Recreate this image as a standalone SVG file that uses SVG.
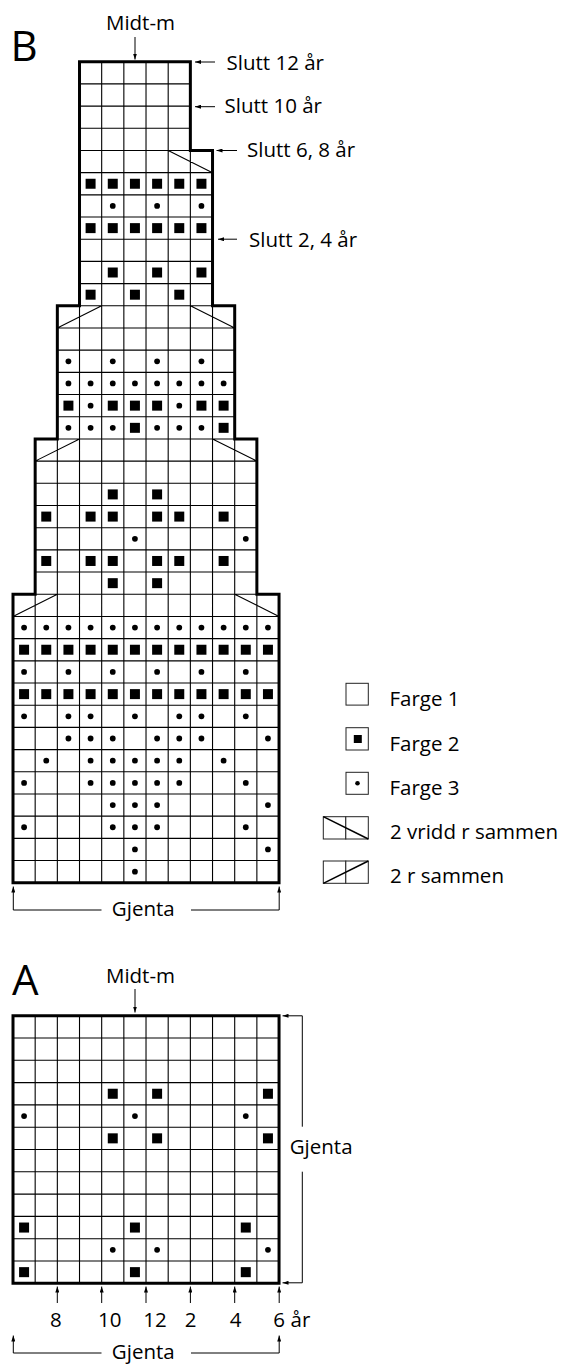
<svg xmlns="http://www.w3.org/2000/svg" xmlns:xlink="http://www.w3.org/1999/xlink" width="562" height="1365" viewBox="0 0 562 1365">
<style>
.grid{fill:none;stroke:#000;stroke-width:1.1;vector-effect:non-scaling-stroke}
.thick{fill:none;stroke:#000;stroke-width:3;stroke-linejoin:miter;vector-effect:non-scaling-stroke}
.lbl{font-family:"Open Sans","Liberation Sans",sans-serif;font-size:20.5px;fill:#000}
.big{font-size:42px}
.arr{fill:none;stroke:#000;stroke-width:1;marker-end:url(#ah)}
.lg{fill:#fff;stroke:#222;stroke-width:1}
.lgd{fill:none;stroke:#000;stroke-width:1.5}
</style>
<defs>
<rect id="s" x="0.275" y="0.275" width="0.45" height="0.45" fill="#000"/>
<circle id="d" cx="0.5" cy="0.5" r="0.13" fill="#000"/>
<marker id="ah" viewBox="0 0 6 4" refX="6" refY="2" markerWidth="6" markerHeight="4" markerUnits="userSpaceOnUse" orient="auto"><path d="M0 0L6 2L0 4z" fill="#000"/></marker>
</defs>
<rect width="562" height="1365" fill="#fff"/>

<g id="chartB" transform="translate(13,61.7) scale(22.17,22.19)">
<path class="grid" d="M4 0V4M5 0V4M6 0V4M7 0V4M3 1H8M3 2H8M3 3H8
M4 4V11M5 4V11M6 4V11M7 4V11M8 4V11M3 4H9M3 5H9M3 6H9M3 7H9M3 8H9M3 9H9M3 10H9
M3 11V17M4 11V17M5 11V17M6 11V17M7 11V17M8 11V17M9 11V17M2 11H10M2 12H10M2 13H10M2 14H10M2 15H10M2 16H10
M2 17V24M3 17V24M4 17V24M5 17V24M6 17V24M7 17V24M8 17V24M9 17V24M10 17V24M1 17H11M1 18H11M1 19H11M1 20H11M1 21H11M1 22H11M1 23H11
M1 24V37M2 24V37M3 24V37M4 24V37M5 24V37M6 24V37M7 24V37M8 24V37M9 24V37M10 24V37M11 24V37
M0 24H12M0 25H12M0 26H12M0 27H12M0 28H12M0 29H12M0 30H12M0 31H12M0 32H12M0 33H12M0 34H12M0 35H12M0 36H12
M7 4L9 5M2 12L4 11M8 11L10 12M1 18L3 17M9 17L11 18M0 25L2 24M10 24L12 25"/>
<path class="thick" d="M0 37V24H1V17H2V11H3V0H8V4H9V11H10V17H11V24H12V37Z"/>
<g id="B-r5"><use href="#s" x="3" y="5"/><use href="#s" x="4" y="5"/><use href="#s" x="5" y="5"/><use href="#s" x="6" y="5"/><use href="#s" x="7" y="5"/><use href="#s" x="8" y="5"/></g>
<g id="B-r6"><use href="#d" x="4" y="6"/><use href="#d" x="6" y="6"/><use href="#d" x="8" y="6"/></g>
<g id="B-r7"><use href="#s" x="3" y="7"/><use href="#s" x="4" y="7"/><use href="#s" x="5" y="7"/><use href="#s" x="6" y="7"/><use href="#s" x="7" y="7"/><use href="#s" x="8" y="7"/></g>
<g id="B-r9"><use href="#s" x="4" y="9"/><use href="#s" x="6" y="9"/><use href="#s" x="8" y="9"/></g>
<g id="B-r10"><use href="#s" x="3" y="10"/><use href="#s" x="5" y="10"/><use href="#s" x="7" y="10"/></g>
<g id="B-r13"><use href="#d" x="2" y="13"/><use href="#d" x="4" y="13"/><use href="#d" x="6" y="13"/><use href="#d" x="8" y="13"/></g>
<g id="B-r14"><use href="#d" x="2" y="14"/><use href="#d" x="3" y="14"/><use href="#d" x="4" y="14"/><use href="#d" x="5" y="14"/><use href="#d" x="6" y="14"/><use href="#d" x="7" y="14"/><use href="#d" x="8" y="14"/><use href="#d" x="9" y="14"/></g>
<g id="B-r15"><use href="#s" x="2" y="15"/><use href="#d" x="3" y="15"/><use href="#s" x="4" y="15"/><use href="#s" x="5" y="15"/><use href="#s" x="6" y="15"/><use href="#d" x="7" y="15"/><use href="#s" x="8" y="15"/><use href="#s" x="9" y="15"/></g>
<g id="B-r16"><use href="#d" x="2" y="16"/><use href="#d" x="3" y="16"/><use href="#d" x="4" y="16"/><use href="#s" x="5" y="16"/><use href="#d" x="6" y="16"/><use href="#d" x="7" y="16"/><use href="#d" x="8" y="16"/><use href="#s" x="9" y="16"/></g>
<g id="B-r19"><use href="#s" x="4" y="19"/><use href="#s" x="6" y="19"/></g>
<g id="B-r20"><use href="#s" x="1" y="20"/><use href="#s" x="3" y="20"/><use href="#s" x="4" y="20"/><use href="#s" x="6" y="20"/><use href="#s" x="7" y="20"/><use href="#s" x="9" y="20"/></g>
<g id="B-r21"><use href="#d" x="5" y="21"/><use href="#d" x="10" y="21"/></g>
<g id="B-r22"><use href="#s" x="1" y="22"/><use href="#s" x="3" y="22"/><use href="#s" x="4" y="22"/><use href="#s" x="6" y="22"/><use href="#s" x="7" y="22"/><use href="#s" x="9" y="22"/></g>
<g id="B-r23"><use href="#s" x="4" y="23"/><use href="#s" x="6" y="23"/></g>
<g id="B-r25"><use href="#d" x="0" y="25"/><use href="#d" x="1" y="25"/><use href="#d" x="2" y="25"/><use href="#d" x="3" y="25"/><use href="#d" x="4" y="25"/><use href="#d" x="5" y="25"/><use href="#d" x="6" y="25"/><use href="#d" x="7" y="25"/><use href="#d" x="8" y="25"/><use href="#d" x="9" y="25"/><use href="#d" x="10" y="25"/><use href="#d" x="11" y="25"/></g>
<g id="B-r26"><use href="#s" x="0" y="26"/><use href="#s" x="1" y="26"/><use href="#s" x="2" y="26"/><use href="#s" x="3" y="26"/><use href="#s" x="4" y="26"/><use href="#s" x="5" y="26"/><use href="#s" x="6" y="26"/><use href="#s" x="7" y="26"/><use href="#s" x="8" y="26"/><use href="#s" x="9" y="26"/><use href="#s" x="10" y="26"/><use href="#s" x="11" y="26"/></g>
<g id="B-r27"><use href="#d" x="0" y="27"/><use href="#d" x="2" y="27"/><use href="#d" x="4" y="27"/><use href="#d" x="6" y="27"/><use href="#d" x="8" y="27"/><use href="#d" x="10" y="27"/></g>
<g id="B-r28"><use href="#s" x="0" y="28"/><use href="#s" x="1" y="28"/><use href="#s" x="2" y="28"/><use href="#s" x="3" y="28"/><use href="#s" x="4" y="28"/><use href="#s" x="5" y="28"/><use href="#s" x="6" y="28"/><use href="#s" x="7" y="28"/><use href="#s" x="8" y="28"/><use href="#s" x="9" y="28"/><use href="#s" x="10" y="28"/><use href="#s" x="11" y="28"/></g>
<g id="B-r29"><use href="#d" x="0" y="29"/><use href="#d" x="2" y="29"/><use href="#d" x="3" y="29"/><use href="#d" x="5" y="29"/><use href="#d" x="7" y="29"/><use href="#d" x="8" y="29"/><use href="#d" x="10" y="29"/></g>
<g id="B-r30"><use href="#d" x="2" y="30"/><use href="#d" x="3" y="30"/><use href="#d" x="4" y="30"/><use href="#d" x="6" y="30"/><use href="#d" x="7" y="30"/><use href="#d" x="8" y="30"/><use href="#d" x="11" y="30"/></g>
<g id="B-r31"><use href="#d" x="1" y="31"/><use href="#d" x="3" y="31"/><use href="#d" x="4" y="31"/><use href="#d" x="5" y="31"/><use href="#d" x="6" y="31"/><use href="#d" x="7" y="31"/><use href="#d" x="9" y="31"/></g>
<g id="B-r32"><use href="#d" x="0" y="32"/><use href="#d" x="3" y="32"/><use href="#d" x="4" y="32"/><use href="#d" x="5" y="32"/><use href="#d" x="6" y="32"/><use href="#d" x="7" y="32"/><use href="#d" x="10" y="32"/></g>
<g id="B-r33"><use href="#d" x="4" y="33"/><use href="#d" x="5" y="33"/><use href="#d" x="6" y="33"/><use href="#d" x="11" y="33"/></g>
<g id="B-r34"><use href="#d" x="0" y="34"/><use href="#d" x="4" y="34"/><use href="#d" x="5" y="34"/><use href="#d" x="6" y="34"/><use href="#d" x="10" y="34"/></g>
<g id="B-r35"><use href="#d" x="5" y="35"/><use href="#d" x="11" y="35"/></g>
<g id="B-r36"><use href="#d" x="5" y="36"/></g>
</g>

<g id="chartA" transform="translate(13,1015.7) scale(22.17,22.3)">
<path class="grid" d="M1 0V12M2 0V12M3 0V12M4 0V12M5 0V12M6 0V12M7 0V12M8 0V12M9 0V12M10 0V12M11 0V12
M0 1H12M0 2H12M0 3H12M0 4H12M0 5H12M0 6H12M0 7H12M0 8H12M0 9H12M0 10H12M0 11H12"/>
<path class="thick" d="M0 0H12V12H0Z"/>
<g id="A-r3"><use href="#s" x="4" y="3"/><use href="#s" x="6" y="3"/><use href="#s" x="11" y="3"/></g>
<g id="A-r4"><use href="#d" x="0" y="4"/><use href="#d" x="5" y="4"/><use href="#d" x="10" y="4"/></g>
<g id="A-r5"><use href="#s" x="4" y="5"/><use href="#s" x="6" y="5"/><use href="#s" x="11" y="5"/></g>
<g id="A-r9"><use href="#s" x="0" y="9"/><use href="#s" x="5" y="9"/><use href="#s" x="10" y="9"/></g>
<g id="A-r10"><use href="#d" x="4" y="10"/><use href="#d" x="6" y="10"/><use href="#d" x="11" y="10"/></g>
<g id="A-r11"><use href="#s" x="0" y="11"/><use href="#s" x="5" y="11"/><use href="#s" x="10" y="11"/></g>
</g>

<g id="connectors">
<path class="arr" d="M135 37V59.5"/>
<path class="arr" d="M215 62H195"/>
<path class="arr" d="M215 106.7H195"/>
<path class="arr" d="M237 150.5H216.5"/>
<path class="arr" d="M237 239.2H218"/>
<path class="arr" d="M101.5 910H13.3V886.5"/>
<path class="arr" d="M191 910H279.2V886.5"/>
<path class="arr" d="M135 989V1012.5"/>
<path class="arr" d="M302.3 1126.7V1015.8H282.5"/>
<path class="arr" d="M302.3 1171.7V1282.8H282.5"/>
<path class="arr" d="M57.3 1303V1286.5"/>
<path class="arr" d="M101.7 1303V1286.5"/>
<path class="arr" d="M146 1303V1286.5"/>
<path class="arr" d="M190.4 1303V1286.5"/>
<path class="arr" d="M234.7 1303V1286.5"/>
<path class="arr" d="M279.2 1303V1286.5"/>
<path class="arr" d="M101.5 1353H13.3V1335.5"/>
<path class="arr" d="M191 1353H279.2V1335.5"/>
</g>

<g id="labels" class="lbl">
<text class="big" x="10.5" y="61">B</text>
<text class="big" x="12" y="994.5">A</text>
<text x="140.5" y="29.5" text-anchor="middle">Midt-m</text>
<text x="140.5" y="983.3" text-anchor="middle">Midt-m</text>
<text x="226.5" y="70">Slutt 12 år</text>
<text x="224.5" y="113.3">Slutt 10 år</text>
<text x="247" y="157">Slutt 6, 8 år</text>
<text x="249" y="246.7">Slutt 2, 4 år</text>
<text x="143.3" y="915.5" text-anchor="middle">Gjenta</text>
<text x="289.7" y="1154">Gjenta</text>
<text x="143.3" y="1358.5" text-anchor="middle">Gjenta</text>
<text x="55.8" y="1327.3" text-anchor="middle">8</text>
<text x="109.7" y="1327.3" text-anchor="middle">10</text>
<text x="155" y="1327.3" text-anchor="middle">12</text>
<text x="190.5" y="1327.3" text-anchor="middle">2</text>
<text x="235.5" y="1327.3" text-anchor="middle">4</text>
<text x="279" y="1327.3" text-anchor="middle">6</text>
<text x="290.5" y="1327.3">år</text>
</g>

<g id="legend">
<g id="leg-farge1"><rect class="lg" x="346" y="683.3" width="22.3" height="21.8"/><text class="lbl" x="389.5" y="706">Farge 1</text></g>
<g id="leg-farge2"><rect class="lg" x="346" y="727.7" width="22.3" height="22.3"/><rect x="353.8" y="735" width="8" height="8" fill="#000"/><text class="lbl" x="389.5" y="750.7">Farge 2</text></g>
<g id="leg-farge3"><rect class="lg" x="346" y="772.3" width="22.3" height="22"/><circle cx="357.5" cy="783.3" r="2.3" fill="#000"/><text class="lbl" x="389.5" y="795">Farge 3</text></g>
<g id="leg-vridd"><rect class="lg" x="323.3" y="816.7" width="22.5" height="22.3"/><rect class="lg" x="345.8" y="816.7" width="22.5" height="22.3"/><path class="lgd" d="M323.3 816.7L368.3 839"/><text class="lbl" x="390" y="839">2 vridd r sammen</text></g>
<g id="leg-rsammen"><rect class="lg" x="323.3" y="861" width="22.5" height="22.3"/><rect class="lg" x="345.8" y="861" width="22.5" height="22.3"/><path class="lgd" d="M323.3 883.3L368.3 861"/><text class="lbl" x="390" y="883">2 r sammen</text></g>
</g>
</svg>
